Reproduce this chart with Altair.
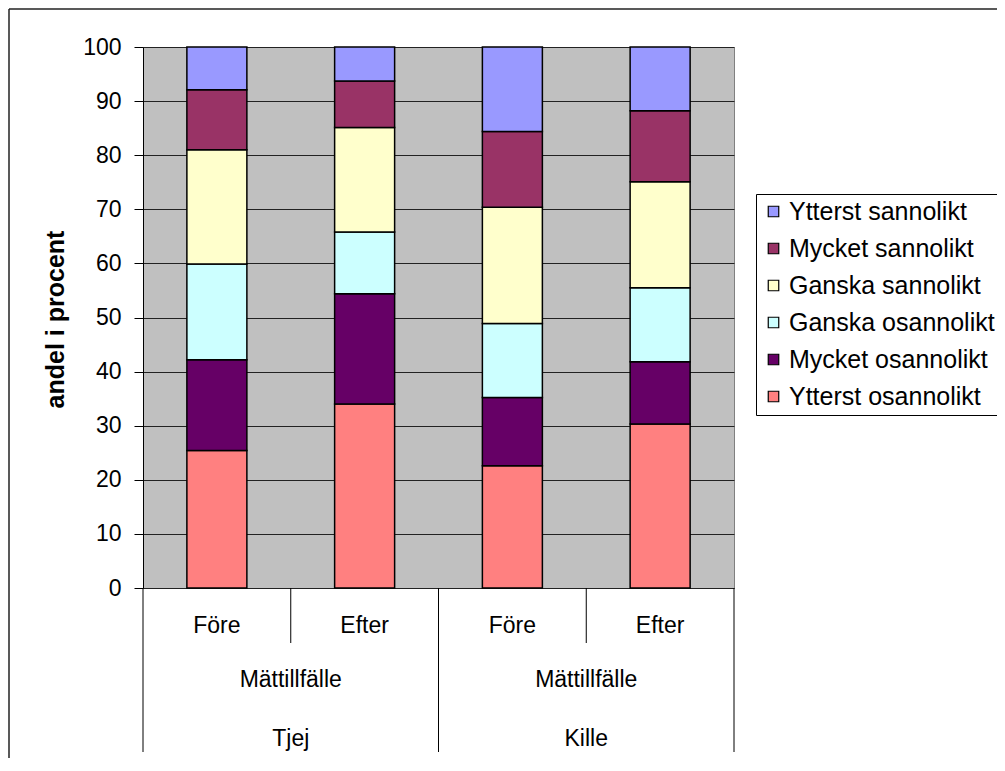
import altair as alt
import pandas as pd

# ---- data ----
groups = ["Tjej", "Tjej", "Kille", "Kille"]
occasions = ["Före", "Efter", "Före", "Efter"]
group_labels = ["Tjej", "Kille"]
sub_title = "Mättillfälle"
series = ["Ytterst osannolikt", "Mycket osannolikt", "Ganska osannolikt",
          "Ganska sannolikt", "Mycket sannolikt", "Ytterst sannolikt"]
colors = ["#FF8080", "#660066", "#CCFFFF", "#FFFFCC", "#993366", "#9999FF"]
ytterst_osannolikt = [25.4, 34.0, 22.6, 30.3]
mycket_osannolikt = [16.8, 20.4, 12.6, 11.5]
ganska_osannolikt = [17.7, 11.4, 13.7, 13.7]
ganska_sannolikt = [21.1, 19.3, 21.5, 19.6]
mycket_sannolikt = [11.1, 8.6, 14.0, 13.1]
ytterst_sannolikt = [7.9, 6.3, 15.6, 11.8]
y_ticks = list(range(0, 101, 10))

series_values = [ytterst_osannolikt, mycket_osannolikt, ganska_osannolikt,
                 ganska_sannolikt, mycket_sannolikt, ytterst_sannolikt]

FONT = "Liberation Sans, Arial, sans-serif"
W, H = 591, 541

rows = []
for si, (name, vals) in enumerate(zip(series, series_values)):
    for ci, v in enumerate(vals):
        rows.append({"pos": ci + 0.5, "series": name, "idx": si, "value": v,
                     "group": groups[ci], "occ": occasions[ci]})
df = pd.DataFrame(rows)

cat_df = pd.DataFrame({"pos": [i + 0.5 for i in range(len(occasions))], "occ": occasions})
grp_df = pd.DataFrame({"pos": [1.0, 3.0], "grp": group_labels, "sub": [sub_title] * 2})
inner_df = pd.DataFrame({"b": [1, 3]})
outer_df = pd.DataFrame({"b": [0, 2, 4]})

xscale = alt.Scale(domain=[0, 4], nice=False, zero=False, padding=0)

bars = alt.Chart(df).mark_bar(size=60, stroke="black", strokeWidth=1.5).encode(
    x=alt.X("pos:Q", scale=xscale, axis=None),
    y=alt.Y("value:Q", stack="zero",
            scale=alt.Scale(domain=[0, 100], nice=False),
            axis=alt.Axis(values=y_ticks, title="andel i procent",
                          labelFont=FONT, labelFontSize=23, labelColor="black",
                          labelPadding=13, tickSize=9, tickColor="black",
                          domainColor="black", domainWidth=1,
                          grid=True, gridColor="#222222", gridWidth=1,
                          titleFont=FONT, titleFontSize=25, titleFontWeight="bold",
                          titleColor="black", titleAngle=-90, titleX=-80, titleY=272,
                          titleBaseline="alphabetic", titleAlign="center")),
    color=alt.Color("series:N",
                    scale=alt.Scale(domain=series[::-1], range=colors[::-1]),
                    legend=alt.Legend(title=None, orient="none", legendX=613, legendY=147,
                                      labelFont=FONT, labelFontSize=25, labelColor="black",
                                      labelLimit=0,
                                      symbolType="square", symbolSize=110,
                                      symbolStrokeColor="black", symbolStrokeWidth=1.2,
                                      labelOffset=3, rowPadding=11, padding=5,
                                      strokeColor="black", fillColor="white")),
    order=alt.Order("idx:Q", sort="ascending"),
)

inner_rules = alt.Chart(inner_df).mark_rule(color="black", strokeWidth=1).encode(
    x=alt.X("b:Q", scale=xscale), y=alt.value(H), y2=alt.value(H + 55))
outer_rules = alt.Chart(outer_df).mark_rule(color="black", strokeWidth=1).encode(
    x=alt.X("b:Q", scale=xscale), y=alt.value(H), y2=alt.value(H + 164))

occ_text = alt.Chart(cat_df).mark_text(font=FONT, fontSize=23, color="black",
                                       baseline="alphabetic", align="center").encode(
    x=alt.X("pos:Q", scale=xscale), y=alt.value(586), text="occ:N")
sub_text = alt.Chart(grp_df).mark_text(font=FONT, fontSize=23, color="black",
                                       baseline="alphabetic", align="center").encode(
    x=alt.X("pos:Q", scale=xscale), y=alt.value(640), text="sub:N")
grp_text = alt.Chart(grp_df).mark_text(font=FONT, fontSize=23, color="black",
                                       baseline="alphabetic", align="center").encode(
    x=alt.X("pos:Q", scale=xscale), y=alt.value(699), text="grp:N")

# outer chart frame (top and left edges; right/bottom fall outside the picture)
frame_top = alt.Chart(outer_df.head(1)).mark_rule(color="#222222", strokeWidth=1.5).encode(
    x=alt.value(-134), x2=alt.value(W + 300), y=alt.value(-38))
frame_left = alt.Chart(outer_df.head(1)).mark_rule(color="#222222", strokeWidth=1.5).encode(
    x=alt.value(-134), y=alt.value(-38), y2=alt.value(H + 200))

chart = alt.layer(bars, inner_rules, outer_rules, occ_text, sub_text, grp_text,
                  frame_top, frame_left).properties(
    width=W, height=H,
    autosize=alt.AutoSizeParams(type="none"),
    padding={"left": 135, "top": 39, "right": 263, "bottom": 170},
    background="white",
).configure_view(fill="#C0C0C0", stroke="#808080", strokeWidth=1)

chart.save("out.html", embed_options={"renderer": "svg", "actions": False})
